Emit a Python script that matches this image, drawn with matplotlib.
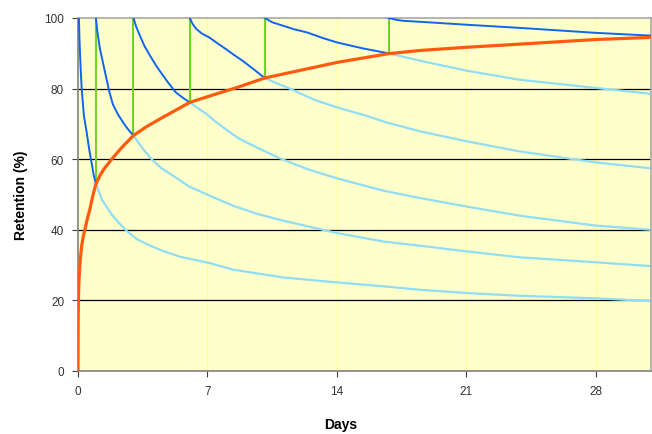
import matplotlib
matplotlib.use('Agg')

import matplotlib.pyplot as plt

# Courbes d'oubli (jours, rétention %) - partie foncée jusqu'à la révision suivante, puis claire
c1_dark_t = [0, 0.05, 0.08, 0.1, 0.15, 0.2, 0.32, 0.47, 0.6, 0.7, 0.85, 0.97]
c1_dark_v = [100, 99.7, 94, 91.2, 85, 79.9, 72.3, 67.6, 63, 60, 55.5, 53]
c1_light_t = [0.97, 1.3, 1.8, 2.2, 2.63, 3.2, 3.9, 4.6, 5.5, 7.1, 8.4, 11.1, 14, 16.5,
              18.5, 21, 23.9, 28, 31]
c1_light_v = [53, 48.5, 44.5, 42, 39.7, 37.3, 35.5, 34, 32.4, 30.6, 28.7, 26.5, 25.1, 24,
              23, 22.1, 21.3, 20.6, 19.8]

c2_dark_t = [0.97, 1.05, 1.19, 1.46, 1.7, 1.89, 2.15, 2.43, 2.7, 3]
c2_dark_v = [100, 96, 91.2, 84.7, 79, 75.5, 72.8, 70.5, 68.5, 66.7]
c2_light_t = [3, 3.5, 3.98, 4.5, 5.15, 6, 7.1, 8.4, 9.7, 11.1, 14, 16.5, 18.5, 21, 23.9, 28, 31]
c2_light_v = [66.7, 63, 60, 57.5, 55.3, 52.3, 49.7, 46.8, 44.5, 42.6, 39.1, 36.7, 35.5, 33.9,
              32.2, 30.8, 29.7]

c3_dark_t = [3, 3.15, 3.35, 3.6, 3.9, 4.25, 4.6, 4.95, 5.3, 5.7, 6.05]
c3_dark_v = [100, 97.5, 95, 92, 89.3, 86.3, 83.7, 81.2, 78.9, 77.3, 76.1]
c3_light_t = [6.05, 6.5, 6.96, 7.4, 7.86, 8.3, 8.76, 9.84, 10.9, 12.4, 14, 16.5, 18.5, 21,
              23.9, 28, 31]
c3_light_v = [76.1, 74.4, 72.8, 70.8, 69, 67.3, 65.7, 62.9, 60.3, 57.2, 54.6, 51.1, 49, 46.6,
              44, 41.2, 40]

c4_dark_t = [6.05, 6.2, 6.4, 6.7, 7.1, 7.5, 8, 8.45, 8.9, 9.5, 10.1]
c4_dark_v = [100, 98.3, 96.9, 95.6, 94.5, 93, 91.2, 89.5, 87.9, 85.5, 83]
c4_light_t = [10.1, 10.8, 11.5, 12.2, 12.9, 14, 15.6, 16.7, 18.5, 21, 23.9, 28, 31]
c4_light_v = [83, 81.4, 79.9, 78.2, 76.6, 74.7, 72.3, 70.4, 67.9, 65.1, 62.2, 59.1, 57.4]

c5_dark_t = [10.1, 10.5, 11.1, 11.7, 12.4, 13.2, 14, 15.4, 16.8]
c5_dark_v = [100, 98.8, 97.8, 96.8, 95.9, 94.4, 93.1, 91.4, 90]
c5_light_t = [16.8, 18.5, 21, 23.9, 28, 31]
c5_light_v = [90, 87.9, 85.1, 82.5, 80.2, 78.5]

c6_dark_t = [16.8, 17.2, 17.6, 18.9, 21, 23.9, 28, 31]
c6_dark_v = [100, 99.5, 99.2, 98.8, 98.1, 97.2, 95.8, 95]

# Jours de révision et rétention au moment de la révision
review_days = [0.97, 3, 6.05, 10.1, 16.8]
review_ret = [53, 66.7, 76.1, 83, 90]

# Courbe de rétention (enveloppe)
orange_t = [0, 0.01, 0.03, 0.06, 0.1, 0.15, 0.2, 0.28, 0.38, 0.5, 0.65, 0.8, 0.97, 1.2, 1.4,
            1.82, 2.4, 3, 3.7, 4.43, 5.5, 6.05, 7.3, 8.6, 10.1, 12.4, 14, 16.8, 18.5, 21,
            23.9, 28, 31]
orange_v = [0, 15, 22, 26.5, 30, 33, 35.5, 38, 40.2, 43, 46, 49.6, 53, 55.5, 57.2,
            60, 63.5, 66.7, 69.2, 71.4, 74.5, 76.1, 78.2, 80.3, 83, 85.6, 87.4, 89.9, 90.8, 91.7,
            92.6, 93.9, 94.5]

x_ticks = [0, 7, 14, 21, 28]
y_ticks = [0, 20, 40, 60, 80, 100]

DARK = '#0F64F0'
LIGHT = '#90DDF5'
GREEN = '#6FD21E'
ORANGE = '#FF5A0F'

plt.rcParams['font.family'] = ['Liberation Sans', 'DejaVu Sans']

fig = plt.figure(figsize=(6.52, 4.35), dpi=100)
ax = fig.add_axes([78 / 652, 1 - 372 / 435, 573 / 652, 353 / 435])
ax.set_facecolor('#FFFFCC')

# Grille
for x in x_ticks[1:]:
    ax.axvline(x, color='#FFFF99', linewidth=0.8, zorder=1)
for y in y_ticks[1:-1]:
    ax.axhline(y, color='black', linewidth=0.9, zorder=1)

# Parties claires
for t, v in [(c1_light_t, c1_light_v), (c2_light_t, c2_light_v), (c3_light_t, c3_light_v),
             (c4_light_t, c4_light_v), (c5_light_t, c5_light_v)]:
    ax.plot(t, v, color=LIGHT, linewidth=1.6, zorder=2)

# Révisions
ax.vlines(review_days, review_ret, 100, color=GREEN, linewidth=1.4, zorder=3)

# Parties foncées
for t, v in [(c1_dark_t, c1_dark_v), (c2_dark_t, c2_dark_v), (c3_dark_t, c3_dark_v),
             (c4_dark_t, c4_dark_v), (c5_dark_t, c5_dark_v), (c6_dark_t, c6_dark_v)]:
    ax.plot(t, v, color=DARK, linewidth=1.4, zorder=4)

ax.plot(orange_t, orange_v, color=ORANGE, linewidth=2.3, zorder=5, solid_capstyle='butt')

ax.set_xlim(0, 31)
ax.set_ylim(0, 100)
ax.set_xticks(x_ticks)
ax.set_yticks(y_ticks)

for side in ['left', 'bottom']:
    ax.spines[side].set_color('#808080')
    ax.spines[side].set_linewidth(1.2)
for side in ['top', 'right']:
    ax.spines[side].set_color('#A8A8A8')
    ax.spines[side].set_linewidth(1.2)

ax.tick_params(axis='both', direction='out', length=4, width=0.8, color='#404040',
               labelsize=8.5, labelcolor='#333333', pad=6)

ax.set_xlabel('Days', fontsize=10, fontweight='bold')
ax.set_ylabel('Retention (%)', fontsize=10, fontweight='bold')
ax.xaxis.set_label_coords(0.459, -0.13)
ax.yaxis.set_label_coords(-0.087, 0.5)

fig.savefig('out.png', dpi=100, facecolor='white')
plt.close(fig)
